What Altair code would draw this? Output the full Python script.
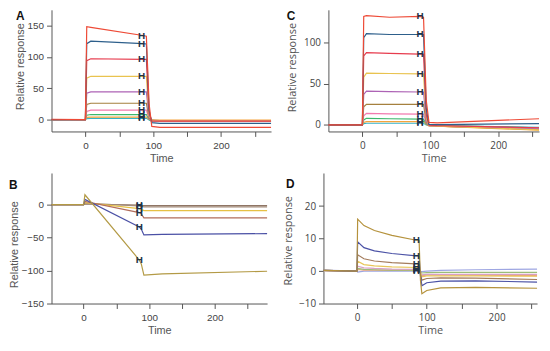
import altair as alt
import pandas as pd

# ---------------- Panel A ----------------
tA = [-50, 0, 2, 8, 85, 90, 94, 98, 110, 274]
A_red     = [0.5, 0, 148, 147, 134, 133, 25, -11, -12.5, -12.5]
A_blue    = [0, 0, 121, 125, 121, 120.5, 15, -5, -6, -6]
A_crimson = [0, 0, 94, 97, 96, 96, 10, -2, -2.5, -2.5]
A_yellow  = [0, 0, 66, 69, 69, 69, 6, -1.5, -2, -2]
A_purple  = [0, 0, 42, 44, 44, 44, 4, -1.5, -2, -2]
A_brown   = [0, 0, 24, 26, 26, 26, 2, -1, -1.5, -1.5]
A_pink    = [0, 0, 13, 15, 15, 15, 1, -2, -2.5, -2.5]
A_green   = [0, 0, 7, 8, 8, 8, 0.5, -2.5, -3, -3]
A_orange  = [0, 0, 3.5, 4, 4, 4, 0, -1, -1, -1]
A_cyan    = [0, 0, 1.5, 2, 2, 2, -0.5, -3, -3, -3]

# ---------------- Panel C ----------------
tC = [-50, 0, 2, 6, 40, 85, 90, 94, 98, 110, 260]
C_red     = [0, 0, 132, 133, 131, 132, 131, 30, 3, 2.5, 7.5]
C_blue    = [0, 0, 106, 111, 110, 110, 110, 20, 0.5, 0.3, 1.5]
C_crimson = [0, 0, 84, 88, 87, 86, 86, 12, -0.5, -1, -3.5]
C_yellow  = [0, 0, 58, 63, 62.5, 62, 62, 8, -1, -1.5, -6]
C_purple  = [0, 0, 37, 41, 40.5, 40, 40, 5, -1, -1.5, -5]
C_brown   = [0, 0, 22, 25, 25, 25, 25, 3, -1, -1.5, -5.5]
C_pink    = [0, 0, 11, 14, 13.5, 13, 13, 2, -1, -1.5, -4]
C_green   = [0, 0, 6, 8, 7.5, 7, 7, 1, -0.5, -1, -3.5]
C_orange  = [0, 0, 3, 4, 4, 4, 4, 0.5, -1, -1.5, -6.5]
C_cyan    = [0, 0, 1.5, 2, 2, 2, 2, 0, -0.5, -1, -3]

AC_colors = ["#ee4a36", "#2d5f8b", "#e73c4e", "#e9c34f", "#ad63b5",
             "#a5803e", "#f27aaf", "#3cb76b", "#f5a43c", "#35b3c9"]

# ---------------- Panel B ----------------
tB = [-49, 0, 2, 85, 88, 92, 120, 280]
B_olive    = [0, 0, 15, -84, -90, -107, -105, -101]
B_indigo   = [0, 0, 8, -34, -37, -46, -45, -44]
B_brownred = [0, 0, 5, -12, -14, -20, -20, -20]
B_yellow   = [0, 0, 3, -6, -7, -9, -9, -9]
B_taupe    = [0, 0, 2, -2, -2.5, -3.5, -3.5, -3.5]
B_greybrn  = [0, 0, 1, -0.5, -1, -1.5, -1.5, -1.5]
B_colors = ["#b39a45", "#4a50a5", "#b26d5b", "#e6c045", "#a38a78", "#8f7565"]

# ---------------- Panel D ----------------
tD = [-48, 0, 1, 10, 25, 50, 85, 89, 91, 93, 100, 120, 170, 258]
D_olive  = [0.2, 0, 16, 14, 12.5, 11, 9.5, 9.5, -3, -7, -6, -5.2, -5, -5.3]
D_indigo = [0.2, 0, 9, 7.2, 6.2, 5.4, 4.7, 4.7, -1.5, -4.5, -3.6, -3.1, -3, -3.4]
D_brown  = [0.2, 0, 5, 3.8, 3.1, 2.6, 2.2, 2.2, -1, -2.8, -2.3, -2.1, -2.2, -2.6]
D_yellow = [0.2, 0, 3, 2, 1.6, 1.3, 1.1, 1.1, -0.5, -1.8, -1.5, -1.5, -1.5, -1.6]
D_pink   = [0.1, 0, 1.5, 1, 0.8, 0.6, 0.5, 0.5, -0.3, -1.2, -1, -1, -1, -1]
D_green  = [0.1, 0, 0.8, 0.5, 0.4, 0.3, 0.3, 0.3, 0, -0.6, -0.5, -0.4, -0.4, -0.4]
D_orange = [0.1, 0, 0.5, 0.3, 0.3, 0.2, 0.2, 0.2, -0.3, -1.5, -1.2, -1.2, -1.3, -1.4]
D_peri   = [0.3, 0, -0.3, 0, 0, 0, 0, 0, 0, -0.2, 0, 0.2, 0.4, 0.6]
D_colors = ["#b5923c", "#4b52a6", "#a47c5c", "#e8c65a", "#d8a0c4", "#9abd78", "#eca57c", "#9ea6e2"]

xticks = [0, 50, 100, 150, 200, 250]
AX = "#555555"


def build(prefix, times, series, colors, h_t):
    rows, hrows = [], []
    hi = times.index(85)
    for i, (vals, col) in enumerate(zip(series, colors)):
        name = f"{prefix}{i}"
        for t, v in zip(times, vals):
            rows.append({"t": t, "v": v, "s": name, "c": col})
        hrows.append({"t": h_t, "v": vals[hi]})
    return pd.DataFrame(rows), pd.DataFrame(hrows)


def panel(prefix, times, series, colors, h_t, letter, lx, ly, xdom, ydom, yticks, ystep,
          w, h, font, title_x, title_y):
    df, hdf = build(prefix, times, series, colors, h_t)
    xenc = alt.X("t:Q", scale=alt.Scale(domain=xdom, nice=False, zero=False),
                 axis=alt.Axis(values=xticks, labelExpr="datum.value % 100 === 0 ? datum.label : ''",
                               title="Time", labelFont=font, titleFont=font,
                               labelPadding=4, titlePadding=2, labelOverlap=False,
                               labelFlush=False))
    yenc = alt.Y("v:Q", scale=alt.Scale(domain=ydom, nice=False, zero=False),
                 axis=alt.Axis(values=yticks, labelExpr=f"datum.value % {ystep} === 0 ? datum.label : ''",
                               title="Relative response", titleX=title_x, titleY=title_y,
                               labelFont=font, titleFont=font, labelPadding=3,
                               labelOverlap=False, labelFlush=False))
    lines = alt.Chart(df).mark_line(strokeWidth=1.2).encode(
        x=xenc, y=yenc, color=alt.Color("c:N", scale=None), detail="s:N")
    hm = alt.Chart(hdf).mark_text(text="H", fontWeight="bold", fontSize=10, font="Liberation Sans",
                                  color="#223247", clip=True).encode(x="t:Q", y="v:Q")
    lt = alt.Chart(pd.DataFrame({"k": [letter]})).mark_text(
        align="left", baseline="middle", fontWeight="bold", fontSize=12,
        font="Liberation Sans", color="#111111").encode(
        x=alt.value(lx), y=alt.value(ly), text="k:N")
    return alt.layer(lines, hm, lt).properties(width=w, height=h)


pA = panel("A", tA, [A_red, A_blue, A_crimson, A_yellow, A_purple, A_brown, A_pink, A_green, A_orange, A_cyan][::-1],
           AC_colors[::-1], 83, "A", -36, 6, [-50, 274], [-19, 175],
           [0, 25, 50, 75, 100, 125, 150], 50, 222, 123, "Liberation Sans", -26, 57)
pC = panel("C", tC, [C_red, C_blue, C_crimson, C_yellow, C_purple, C_brown, C_pink, C_green, C_orange, C_cyan][::-1],
           AC_colors[::-1], 85, "C", -42, 6, [-50, 260], [-8, 140],
           [0, 25, 50, 75, 100, 125], 50, 213, 123, "Open Sans", -31, 58)
pB = panel("B", tB, [B_greybrn, B_taupe, B_yellow, B_brownred, B_indigo, B_olive],
           B_colors[::-1], 85, "B", -43, 12, [-49, 280], [-150, 48],
           [-150, -125, -100, -75, -50, -25, 0, 25], 50, 218, 132, "Liberation Sans", -32, 72)
pD = panel("D", tD, [D_peri, D_orange, D_green, D_pink, D_yellow, D_brown, D_indigo, D_olive],
           D_colors[::-1], 85, "D", -38, 11.5, [-48, 258], [-10, 30.2],
           [-10, -5, 0, 5, 10, 15, 20, 25], 10, 216, 132, "Open Sans", -30, 68)

chart = alt.vconcat(
    alt.hconcat(pA, pC, spacing=12),
    alt.hconcat(pB, pD, spacing=12),
    spacing=10,
).properties(padding=0).configure_axis(
    domainColor=AX, tickColor=AX, labelColor="#444444", titleColor="#555555",
    tickSize=5, grid=False, labelFontSize=10, titleFontSize=11, titleFontWeight="normal"
).configure_view(stroke=None)

chart.save("out.html", embed_options={"renderer": "svg", "actions": False})
